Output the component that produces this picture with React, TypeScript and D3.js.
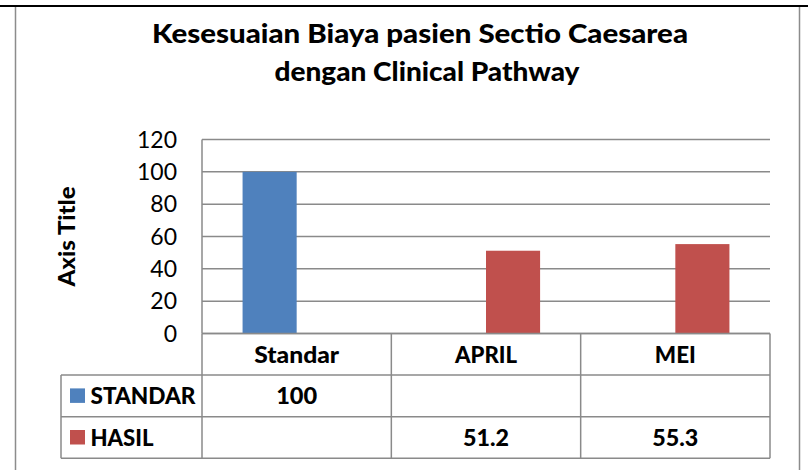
import * as d3 from 'd3';
import React from 'react';

// categories and series
const categories = ['Standar', 'APRIL', 'MEI'];
const seriesNames = ['STANDAR', 'HASIL'];
const standarValues: (number | null)[] = [100, null, null];
const hasilValues: (number | null)[] = [null, 51.2, 55.3];
const yTicks = [0, 20, 40, 60, 80, 100, 120];
const seriesColors = ['#4F81BD', '#C0504D'];

const W = 808;
const H = 470;
const font = 'Lato, "Open Sans", sans-serif';
const gridColor = '#8a8a8a';
const heavy = 900;

export default function App() {
  const plot = { left: 202, right: 770, top: 139.5, bottom: 333.5 };
  const rowH = 41.6;

  const x = d3.scaleBand<string>().domain(categories).range([plot.left, plot.right]);
  const sub = d3.scaleBand<string>().domain(seriesNames).range([0, x.bandwidth()]).paddingInner(0).paddingOuter(0.75);
  const y = d3.scaleLinear().domain([0, 120]).range([plot.bottom, plot.top]);

  const allSeries = [standarValues, hasilValues];
  const tableTop = plot.bottom;
  const rowTops = [tableTop, tableTop + rowH, tableTop + rowH * 2];
  const tableBottom = tableTop + rowH * 3;
  const legendLeft = 61;

  // widths of bold labels in the reference (font substitutes for Calibri)
  const headerLen: Record<string, number> = { Standar: 85, APRIL: 62, MEI: 41 };

  return (
    <svg width={W} height={H} style={{ position: 'absolute', left: 0, top: 0, background: '#fff' }} fontFamily={font}>
      <rect x={0} y={0} width={W} height={H} fill="#fff" />
      {/* outer frame */}
      <line x1={15.5} x2={15.5} y1={6} y2={H} stroke="#8c8c8c" strokeWidth={1.5} />
      <line x1={799.5} x2={799.5} y1={6} y2={H} stroke="#8c8c8c" strokeWidth={1.5} />
      <line x1={0} x2={W} y1={6} y2={6} stroke="#000" strokeWidth={2.2} />

      {/* title */}
      <text x={420} y={42.5} textAnchor="middle" fontSize={26} fontWeight={heavy} fill="#000" textLength={536} lengthAdjust="spacingAndGlyphs">
        Kesesuaian Biaya pasien Sectio Caesarea
      </text>
      <text x={427} y={80.5} textAnchor="middle" fontSize={26} fontWeight={heavy} fill="#000" textLength={305} lengthAdjust="spacingAndGlyphs">
        dengan Clinical Pathway
      </text>

      {/* gridlines */}
      {yTicks.map(t => (
        <line key={'g' + t} x1={plot.left} x2={plot.right} y1={y(t)} y2={y(t)} stroke={gridColor} strokeWidth={1.5} />
      ))}
      <line x1={plot.left} x2={plot.left} y1={plot.top} y2={plot.bottom} stroke={gridColor} strokeWidth={1.5} />

      {/* y tick labels */}
      {yTicks.map(t => (
        <text key={'t' + t} x={177} y={y(t)} dy="0.35em" textAnchor="end" fontSize={23} fill="#000">
          {t}
        </text>
      ))}

      {/* axis title */}
      <text transform={`translate(75,${(plot.top + plot.bottom) / 2}) rotate(-90)`} textAnchor="middle" fontSize={23} fontWeight={heavy} fill="#000" textLength={100} lengthAdjust="spacingAndGlyphs">
        Axis Title
      </text>

      {/* bars */}
      {allSeries.map((vals, si) =>
        vals.map((v, ci) =>
          v == null ? null : (
            <rect
              key={`b${si}-${ci}`}
              x={(x(categories[ci]) ?? 0) + (sub(seriesNames[si]) ?? 0)}
              y={y(v)}
              width={sub.bandwidth()}
              height={y(0) - y(v)}
              fill={seriesColors[si]}
            />
          )
        )
      )}

      {/* data table */}
      <g stroke={gridColor} strokeWidth={1.5} fill="none">
        <line x1={plot.left} x2={plot.right} y1={tableTop} y2={tableTop} />
        <line x1={legendLeft} x2={plot.right} y1={rowTops[1]} y2={rowTops[1]} />
        <line x1={legendLeft} x2={plot.right} y1={rowTops[2]} y2={rowTops[2]} />
        <line x1={legendLeft} x2={plot.right} y1={tableBottom} y2={tableBottom} />
        <line x1={legendLeft} x2={legendLeft} y1={rowTops[1]} y2={tableBottom} />
        {categories.map(c => (
          <line key={'v' + c} x1={x(c)} x2={x(c)} y1={tableTop} y2={tableBottom} />
        ))}
        <line x1={plot.right} x2={plot.right} y1={tableTop} y2={tableBottom} />
      </g>

      {categories.map(c => (
        <text key={'h' + c} x={(x(c) ?? 0) + x.bandwidth() / 2} y={rowTops[0] + rowH / 2} dy="0.36em" textAnchor="middle" fontSize={23} fontWeight={heavy} fill="#000" textLength={headerLen[c]} lengthAdjust="spacingAndGlyphs">
          {c}
        </text>
      ))}

      {seriesNames.map((s, si) => {
        const top = rowTops[si + 1];
        return (
          <g key={'r' + s}>
            <rect x={70} y={top + rowH / 2 - 7.5} width={15} height={14.5} fill={seriesColors[si]} />
            <text x={90.5} y={top + rowH / 2} dy="0.36em" fontSize={23} fontWeight={heavy} fill="#000" textLength={s === 'STANDAR' ? 105 : 63} lengthAdjust="spacingAndGlyphs">
              {s}
            </text>
            {allSeries[si].map((v, ci) =>
              v == null ? null : (
                <text key={'c' + ci} x={(x(categories[ci]) ?? 0) + x.bandwidth() / 2} y={top + rowH / 2} dy="0.36em" textAnchor="middle" fontSize={23} fontWeight={heavy} fill="#000" textLength={v === 100 ? 41 : 46} lengthAdjust="spacingAndGlyphs">
                  {v}
                </text>
              )
            )}
          </g>
        );
      })}
    </svg>
  );
}
